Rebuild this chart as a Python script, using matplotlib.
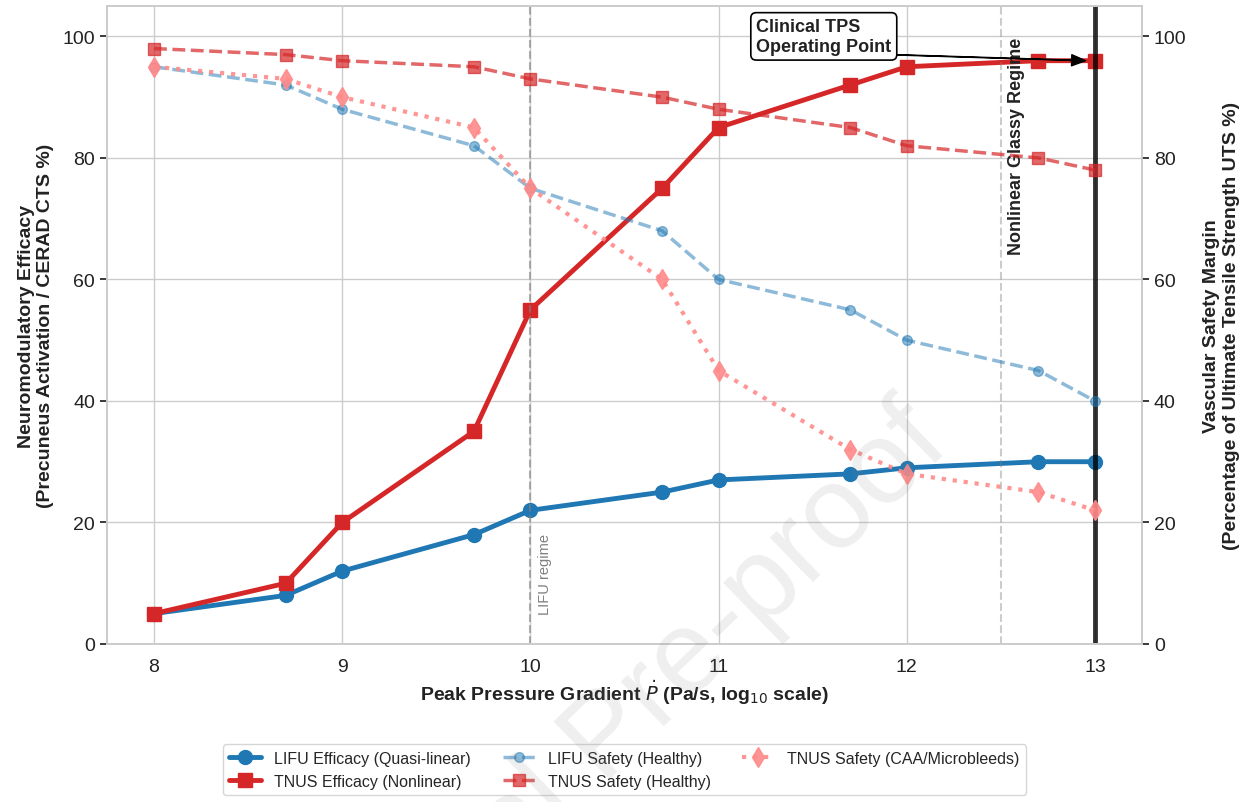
import numpy as np
import matplotlib.pyplot as plt
import seaborn as sns

sns.set_theme(style="whitegrid")
plt.rcParams['font.family'] = ['Liberation Sans', 'DejaVu Sans']
plt.rcParams['ytick.left'] = True
plt.rcParams['ytick.right'] = True

# log10 of peak pressure gradient
x = [8, 8.7, 9, 9.7, 10, 10.7, 11, 11.7, 12, 12.7, 13]

lifu_eff = [5, 8, 12, 18, 22, 25, 27, 28, 29, 30, 30]
tnus_eff = [5, 10, 20, 35, 55, 75, 85, 92, 95, 96, 96]

lifu_safe = [95, 92, 88, 82, 75, 68, 60, 55, 50, 45, 40]
tnus_safe = [98, 97, 96, 95, 93, 90, 88, 85, 82, 80, 78]
tnus_caa = [95, 93, 90, 85, 75, 60, 45, 32, 28, 25, 22]

fig = plt.figure(figsize=(12.47, 8.03), dpi=100)
ax = fig.add_axes([107/1247, 1-645/803, (1142-107)/1247, (645-7)/803])

l1, = ax.plot(x, lifu_eff, '-o', color='#1f77b4', lw=3.5, ms=10, label='LIFU Efficacy (Quasi-linear)')
l2, = ax.plot(x, tnus_eff, '-s', color='#d62728', lw=3.5, ms=10, label='TNUS Efficacy (Nonlinear)')

ax.set_xlim(7.75, 13.25)
ax.set_ylim(0, 105)
ax.set_xticks([8, 9, 10, 11, 12, 13])
ax.tick_params(axis='y', labelsize=14, colors='#222222', length=5, left=True)
ax.tick_params(axis='x', labelsize=14, colors='#222222', bottom=False, pad=4)
ax.set_xlabel(r'Peak Pressure Gradient $\dot{P}$ (Pa/s, log$_{10}$ scale)', fontsize=14, fontweight='bold',
              color='#222222', labelpad=2)
ax.set_ylabel('Neuromodulatory Efficacy\n(Precuneus Activation / CERAD CTS %)', fontsize=14, fontweight='bold',
              color='#222222', labelpad=6)

ax.axvline(10, color='gray', ls='--', lw=1.5, alpha=0.6)
ax.axvline(12.5, color='gray', ls='--', lw=1.5, alpha=0.4)
ax.axvline(13, color='black', lw=3.5, alpha=0.8)
ax.text(10.04, 5, 'LIFU regime', rotation=90, color='gray', fontsize=10.5, va='bottom', ha='left')
ax.text(12.54, 100, 'Nonlinear Glassy Regime', rotation=90, color='#222222', fontsize=13,
        fontweight='bold', va='top', ha='left')

ax2 = ax.twinx()
ax2.grid(False)
l3, = ax2.plot(x, lifu_safe, '--o', color='#1f77b4', alpha=0.5, lw=2.5, ms=7, label='LIFU Safety (Healthy)')
l4, = ax2.plot(x, tnus_safe, '--s', color='#d62728', alpha=0.7, lw=2.5, ms=8, label='TNUS Safety (Healthy)')
l5, = ax2.plot(x, tnus_caa, ':d', color='#ff8a8a', alpha=0.9, lw=3, ms=10, label='TNUS Safety (CAA/Microbleeds)')
ax2.set_ylim(0, 105)
ax2.tick_params(labelsize=14, colors='#222222', length=5, right=True)
ax2.set_ylabel('Vascular Safety Margin\n(Percentage of Ultimate Tensile Strength UTS %)', fontsize=14,
               fontweight='bold', color='#222222', labelpad=12)

ax2.annotate('Clinical TPS\nOperating Point', xy=(12.95, 96), xytext=(11.2, 100),
             fontsize=13, fontweight='bold', color='#222222', va='center', ha='left',
             bbox=dict(boxstyle='round,pad=0.3', fc='white', ec='black', lw=1.2),
             arrowprops=dict(facecolor='black', edgecolor='black', width=0.3, headwidth=8, headlength=10, shrink=0.0))

for s in list(ax.spines.values()) + list(ax2.spines.values()):
    s.set_color('#cccccc')

ax.legend(handles=[l1, l2, l3, l4, l5], loc='upper center', bbox_to_anchor=(0.5, -0.145),
          ncol=3, fontsize=11.5, frameon=True)

fig.text(952/1247, 1-448/803, 'Journal Pre-proof', fontsize=84, color='gray', alpha=0.13,
         rotation=44, ha='right', va='baseline', rotation_mode='anchor')

fig.savefig('out.png', dpi=100)
